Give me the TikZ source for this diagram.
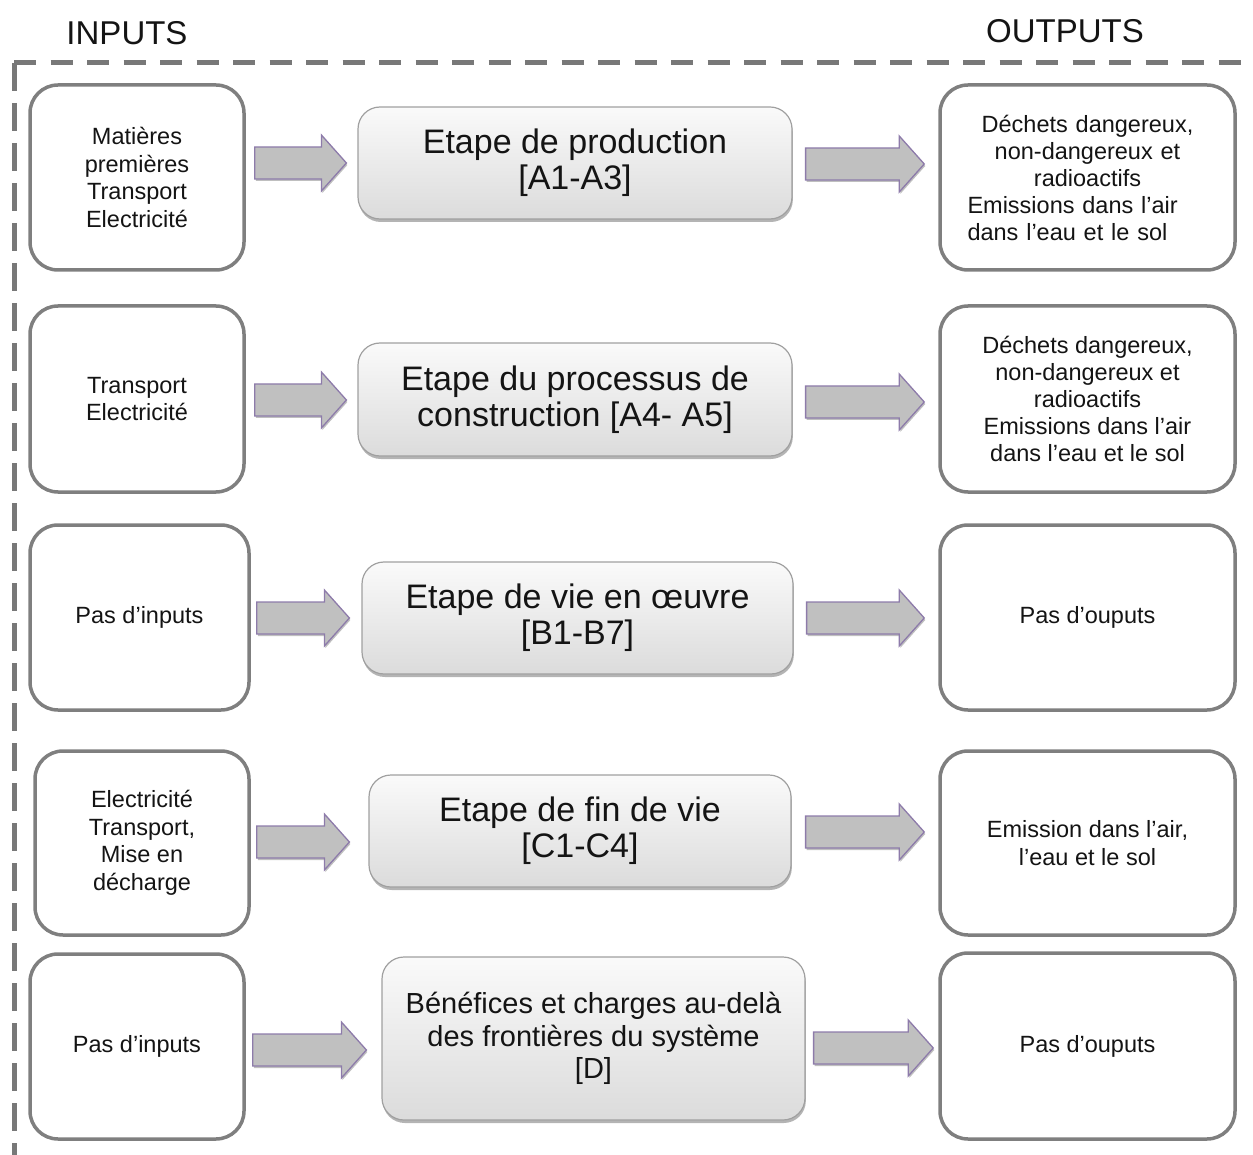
\documentclass[tikz,border=0pt]{standalone}
\usepackage{fontspec}
\setmainfont{Liberation Sans}
\usetikzlibrary{shadows,calc}
\definecolor{boxgray}{HTML}{7F7F7F}
\definecolor{dashgray}{HTML}{787878}
\definecolor{arrowfill}{HTML}{C0C0C0}
\definecolor{arrowedge}{HTML}{8D7BAA}
\definecolor{stageedge}{HTML}{A0A0A0}
\definecolor{txt}{HTML}{141414}
\tikzset{
 iobox/.style={draw=boxgray, line width=3.5pt, rounded corners=28pt, fill=white, align=center, inner sep=0pt, text=txt, font={\fontsize{23.5pt}{27.5pt}\selectfont}},
 stagebox/.style={draw=stageedge, line width=1.2pt, rounded corners=22pt, top color=gray!4, bottom color=gray!28, align=center, inner sep=0pt, text=txt, font={\fontsize{34pt}{36pt}\selectfont}, drop shadow={shadow xshift=0.8pt, shadow yshift=-3pt, opacity=0.45, fill=gray!70!black}},
 blockarrow/.style={fill=arrowfill, draw=arrowedge, line width=1.3pt, line join=miter, drop shadow={shadow xshift=1pt, shadow yshift=-2pt, opacity=0.25, fill=black}},
 heading/.style={font={\fontsize{33pt}{36pt}\selectfont}, anchor=base, inner sep=0pt, text=txt},
 frameline/.style={draw=dashgray, line width=5pt}
}
% block arrow from node #1 to node #2 at pixel height #3, gaps #4 and #5
\newcommand{\barrow}[5]{%
  \path[blockarrow] let \p1=(#1.east), \p2=(#2.west) in
   (\x1+#4pt,-#3pt+16pt) -- (\x2-#5pt-25pt,-#3pt+16pt) -- (\x2-#5pt-25pt,-#3pt+28pt)
   -- (\x2-#5pt,-#3pt) -- (\x2-#5pt-25pt,-#3pt-28pt) -- (\x2-#5pt-25pt,-#3pt-16pt)
   -- (\x1+#4pt,-#3pt-16pt) -- cycle;}
\begin{document}
\begin{tikzpicture}[x=1pt,y=-1pt]
\useasboundingbox (0,0) rectangle (1253,1155);
% frame
\coordinate (fTL) at (14,63);
\coordinate (fTR) at (1253,63);
\coordinate (fBL) at (14,1155);
\draw[frameline, dash pattern=on 22pt off 14.5pt] (fTL) -- (fTR);
\draw[frameline, dash pattern=on 28pt off 12pt] (fTL) -- (fBL);
% headings
\node[heading] (hin) at (127,45) {INPUTS};
\node[heading] (hout) at (1065,43) {OUTPUTS};
% row 1
\node[iobox, minimum width=214pt, minimum height=185pt] (in1) at (137,177.5)
  {Matières\\premières\\Transport\\Electricité};
\node[stagebox, minimum width=434pt, minimum height=112pt] (st1) at (575,163)
  {Etape de production\\{[}A1-A3{]}};
\node[iobox, minimum width=295pt, minimum height=185pt, text width=240pt, align=left,
  font={\fontsize{23.5pt}{27pt}\selectfont}] (out1) at (1087.5,177.5)
  {\makebox[240pt]{Déchets dangereux,}\\\makebox[240pt]{non-dangereux et}\\\makebox[240pt]{radioactifs}\\Emissions dans l’air\\dans l’eau et le sol};
% row 2
\node[iobox, minimum width=214pt, minimum height=186pt] (in2) at (137,399)
  {Transport\\Electricité};
\node[stagebox, minimum width=434pt, minimum height=113pt] (st2) at (575,399.5)
  {Etape du processus de\\construction {[}A4- A5{]}};
\node[iobox, minimum width=295pt, minimum height=186pt,
  font={\fontsize{23.5pt}{27pt}\selectfont}] (out2) at (1087.5,399)
  {Déchets dangereux,\\non-dangereux et\\radioactifs\\Emissions dans l’air\\dans l’eau et le sol};
% row 3
\node[iobox, minimum width=219pt, minimum height=185pt] (in3) at (139.5,617.5)
  {Pas d’inputs};
\node[stagebox, minimum width=431pt, minimum height=112pt] (st3) at (577.5,618)
  {Etape de vie en œuvre\\{[}B1-B7{]}};
\node[iobox, minimum width=295pt, minimum height=185pt] (out3) at (1087.5,617.5)
  {Pas d’ouputs};
% row 4
\node[iobox, minimum width=214pt, minimum height=184pt] (in4) at (142,843)
  {Electricité\\Transport,\\Mise en\\décharge};
\node[stagebox, minimum width=422pt, minimum height=112pt] (st4) at (580,831)
  {Etape de fin de vie\\{[}C1-C4{]}};
\node[iobox, minimum width=295pt, minimum height=184pt] (out4) at (1087.5,843)
  {Emission dans l’air,\\l’eau et le sol};
% row 5
\node[iobox, minimum width=214pt, minimum height=185pt] (in5) at (137,1046.5)
  {Pas d’inputs};
\node[stagebox, minimum width=423pt, minimum height=163pt,
  font={\fontsize{29pt}{32.5pt}\selectfont}] (st5) at (593.5,1038.5)
  {Bénéfices et charges au-delà\\des frontières du système\\{[}D{]}};
\node[iobox, minimum width=295pt, minimum height=186pt] (out5) at (1087.5,1046)
  {Pas d’ouputs};
% arrows
\barrow{in1}{st1}{163}{9}{11}
\barrow{st1}{out1}{164}{13}{14}
\barrow{in2}{st2}{400}{9}{11}
\barrow{st2}{out2}{402}{13}{14}
\barrow{in3}{st3}{618}{6}{12}
\barrow{st3}{out3}{618}{13}{14}
\barrow{in4}{st4}{842}{6}{19}
\barrow{st4}{out4}{832}{14}{14}
\barrow{in5}{st5}{1050}{7}{15}
\barrow{st5}{out5}{1048}{8}{5}
\end{tikzpicture}
\end{document}
